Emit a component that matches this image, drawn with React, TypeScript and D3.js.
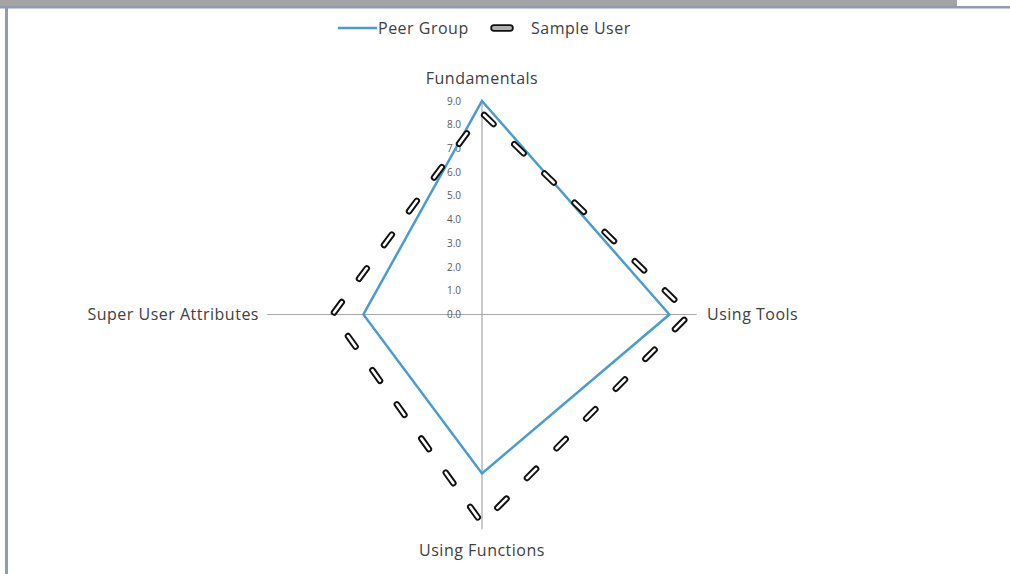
import React from "react";
import * as d3 from "d3";

const axes = ["Fundamentals", "Using Tools", "Using Functions", "Super User Attributes"];
const peerGroup = [9.0, 7.9, 6.7, 5.0];
const sampleUser = [8.5, 8.75, 8.8, 6.3];
const ticks = [0, 1, 2, 3, 4, 5, 6, 7, 8, 9];

const W = 1010;
const H = 574;
const FONT = "'Open Sans', sans-serif";
const TEXT = "#404040";
const BLUE = "#4a9cd0";

const App = () => {
  const cx = 482;
  const cy = 314.5;
  const R = 213.5;

  const r = d3.scaleLinear().domain([0, 9]).range([0, R]);
  // clockwise from the top, one spoke per axis
  const a = (i: number) => (i * 2 * Math.PI) / axes.length;

  const radial = d3
    .lineRadial<number>()
    .angle((_, i) => a(i))
    .radius((d) => r(d))
    .curve(d3.curveLinearClosed);

  const pt = (i: number, v: number) => [cx + Math.sin(a(i)) * r(v), cy - Math.cos(a(i)) * r(v)];

  const labelPos = [
    { x: cx, y: 78, anchor: "middle" },
    { x: 707, y: cy, anchor: "start" },
    { x: cx, y: 550, anchor: "middle" },
    { x: 259, y: cy, anchor: "end" },
  ];

  const dash = { strokeDasharray: "13 29", strokeDashoffset: -3, strokeLinecap: "round" as const };

  return (
    <svg
      width={W}
      height={H}
      style={{ position: "fixed", left: 0, top: 0, display: "block", background: "#fff" }}
    >
      {/* frame */}
      <rect x={0} y={0} width={957} height={7} fill="#a3a3a3" />
      <rect x={0} y={6} width={W} height={2.5} fill="#8d9bb3" />
      <rect x={5} y={6} width={3} height={H} fill="#8d9bb3" />

      {/* legend */}
      <g fontFamily={FONT} fontSize={16} fill={TEXT} letterSpacing={0.5}>
        <line x1={338} x2={377} y1={28} y2={28} stroke={BLUE} strokeWidth={2.5} />
        <text x={378} y={28} dy="0.35em">Peer Group</text>
        <line x1={494} x2={510} y1={28} y2={28} stroke="#111" strokeWidth={7.5} strokeLinecap="round" />
        <line x1={494} x2={510} y1={28} y2={28} stroke="#b0b0b0" strokeWidth={4} strokeLinecap="round" />
        <text x={531} y={28} dy="0.35em">Sample User</text>
      </g>

      {/* spokes */}
      {axes.map((name, i) => {
        const [x, y] = pt(i, 9.05);
        return <line key={name} x1={cx} y1={cy} x2={x} y2={y} stroke="#a6a6a6" strokeWidth={1.2} />;
      })}

      {/* tick labels */}
      <g fontFamily={FONT} fontSize={10} fill="#595959" textAnchor="end">
        {ticks.map((t) => (
          <text key={t} x={cx - 21} y={cy - r(t)} dy="0.35em">
            {t.toFixed(1)}
          </text>
        ))}
      </g>

      {/* axis labels */}
      <g fontFamily={FONT} fontSize={16} fill={TEXT} letterSpacing={0.5}>
        {axes.map((name, i) => (
          <text
            key={name}
            x={labelPos[i].x}
            y={labelPos[i].y}
            dy="0.35em"
            textAnchor={labelPos[i].anchor as any}
          >
            {name}
          </text>
        ))}
      </g>

      {/* series */}
      <g transform={`translate(${cx},${cy})`} fill="none">
        <path d={radial(peerGroup) || ""} stroke={BLUE} strokeWidth={2.5} />
        <path d={radial(sampleUser) || ""} stroke="#111" strokeWidth={6.5} {...dash} />
        <path d={radial(sampleUser) || ""} stroke="#fff" strokeWidth={2.6} {...dash} />
      </g>
    </svg>
  );
};

export default App;
